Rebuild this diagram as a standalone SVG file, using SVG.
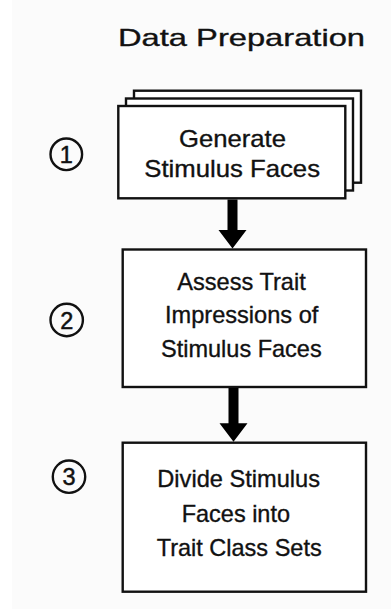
<svg xmlns="http://www.w3.org/2000/svg" width="391" height="609" viewBox="0 0 391 609">
<style>
.box{fill:#ffffff;stroke:#111111;stroke-width:2.4}
.lbl{font-family:"Liberation Sans",Arial,sans-serif;font-size:24px;fill:#111111;stroke:#111111;stroke-width:0.35}
.num{font-family:"Liberation Sans",Arial,sans-serif;font-size:23.5px;fill:#111111;stroke:#111111;stroke-width:0.5;text-anchor:middle}
.circ{fill:none;stroke:#111111;stroke-width:2.4}
.arrow{fill:#000000;stroke:none}
</style>
<rect x="0" y="0" width="391" height="609" fill="#fbfbfb"/>
<rect x="0" y="0" width="12" height="609" fill="#ffffff"/>
<g id="title">
<text class="lbl" x="118" y="45.5" font-size="25" textLength="247" lengthAdjust="spacingAndGlyphs">Data Preparation</text>
</g>
<g id="step1">
<circle class="circ" cx="66.3" cy="154.3" r="15.8"/>
<text class="num" x="66.3" y="163">1</text>
</g>
<g id="step2">
<circle class="circ" cx="66.7" cy="320" r="16.2"/>
<text class="num" x="66.7" y="328.5">2</text>
</g>
<g id="step3">
<circle class="circ" cx="69" cy="476.7" r="16.2"/>
<text class="num" x="69" y="485.2">3</text>
</g>
<g id="node1">
<rect class="box" x="134" y="90.7" width="227" height="92"/>
<rect class="box" x="126" y="98.5" width="227" height="92"/>
<rect class="box" x="118.3" y="106" width="227" height="92.3"/>
<text class="lbl" x="179" y="146.5" textLength="107" lengthAdjust="spacingAndGlyphs">Generate</text>
<text class="lbl" x="144.3" y="177" textLength="175.7" lengthAdjust="spacingAndGlyphs">Stimulus Faces</text>
</g>
<g id="node2">
<rect class="box" x="122.7" y="249.5" width="243.3" height="137.5"/>
<text class="lbl" x="177.3" y="289.5" textLength="128.4" lengthAdjust="spacingAndGlyphs">Assess Trait</text>
<text class="lbl" x="165" y="323" textLength="153.3" lengthAdjust="spacingAndGlyphs">Impressions of</text>
<text class="lbl" x="161" y="356.7" textLength="160.7" lengthAdjust="spacingAndGlyphs">Stimulus Faces</text>
</g>
<g id="node3">
<rect class="box" x="122.7" y="442.7" width="243.3" height="149"/>
<text class="lbl" x="157.3" y="486.7" font-size="25" textLength="162.7" lengthAdjust="spacingAndGlyphs">Divide Stimulus</text>
<text class="lbl" x="181.7" y="521.7" font-size="25" textLength="108.3" lengthAdjust="spacingAndGlyphs">Faces into</text>
<text class="lbl" x="156.7" y="556" font-size="25" textLength="165" lengthAdjust="spacingAndGlyphs">Trait Class Sets</text>
</g>
<g id="connectors">
<path class="arrow" d="M227.5,199.5 H237.5 V230 H246.5 L232.5,248.5 L218.5,230 H227.5 Z"/>
<path class="arrow" d="M228.5,388 H238.5 V423.3 H247.5 L233.5,441.7 L219.5,423.3 H228.5 Z"/>
</g>
</svg>
